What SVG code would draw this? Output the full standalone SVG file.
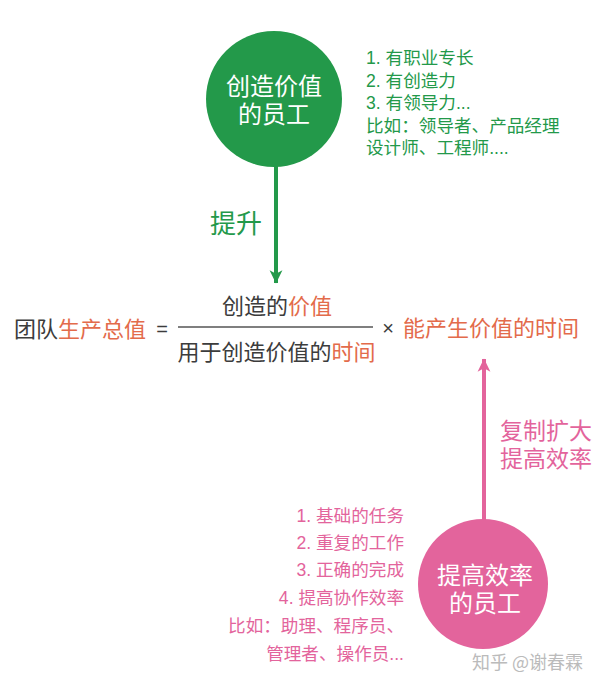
<svg xmlns="http://www.w3.org/2000/svg" width="600" height="687" viewBox="0 0 600 687">
<defs>
<style>
text{font-family:"Noto Sans CJK SC","Noto Sans",sans-serif}
.n{font-family:"Liberation Sans",Arial,sans-serif}
.g{fill:#23994a}
.p{fill:#e3649c}
.o{fill:#e36b4b}
.k{fill:#3c3c3c}
.w{fill:#ffffff;font-size:24px;text-anchor:middle}
.list{font-size:17.6px}
.f{font-size:22px}
</style>
<marker id="ag" markerWidth="4" markerHeight="4" refX="3.2" refY="2" orient="auto" markerUnits="strokeWidth" viewBox="0 0 4 4"><path d="M0,0.4 L3.3,2 L0,3.6 L0.9,2 Z" fill="#23994a"/></marker>
<marker id="ap" markerWidth="4" markerHeight="4" refX="3.2" refY="2" orient="auto" markerUnits="strokeWidth" viewBox="0 0 4 4"><path d="M0,0.4 L3.3,2 L0,3.6 L0.9,2 Z" fill="#e3649c"/></marker>
</defs>
<rect width="600" height="687" fill="#ffffff"/>
<g id="connectors">
<line x1="276" y1="166" x2="276" y2="283" stroke="#23994a" stroke-width="4" marker-end="url(#ag)"/>
<line x1="484" y1="520" x2="484" y2="359" stroke="#e3649c" stroke-width="4" marker-end="url(#ap)"/>
</g>
<g id="node-create">
<circle cx="274" cy="99" r="68" fill="#23994a"/>
<text class="w" x="274" y="95">创造价值</text>
<text class="w" x="274" y="123">的员工</text>
</g>
<g id="create-list" class="g list">
<text x="366" y="64"><tspan class="n">1. </tspan>有职业专长</text>
<text x="366" y="86.5"><tspan class="n">2. </tspan>有创造力</text>
<text x="366" y="109"><tspan class="n">3. </tspan>有领导力<tspan class="n">...</tspan></text>
<text x="366" y="131.5">比如：领导者、产品经理</text>
<text x="366" y="154">设计师、工程师<tspan class="n">....</tspan></text>
</g>
<g id="label-up">
<text class="g" x="262" y="233" font-size="26" text-anchor="end">提升</text>
</g>
<g id="formula" class="f">
<text x="14" y="337"><tspan class="k">团队</tspan><tspan class="o">生产总值</tspan></text>
<text class="k n" x="162" y="336" font-size="20" text-anchor="middle">=</text>
<text x="277" y="314" text-anchor="middle"><tspan class="k">创造的</tspan><tspan class="o">价值</tspan></text>
<line x1="178" y1="327" x2="373" y2="327" stroke="#555555" stroke-width="1.5"/>
<text x="276.5" y="360" text-anchor="middle"><tspan class="k">用于创造价值的</tspan><tspan class="o">时间</tspan></text>
<text class="k n" x="388" y="335" font-size="20" text-anchor="middle">×</text>
<text class="o" x="403" y="336">能产生价值的时间</text>
</g>
<g id="label-copy" class="p" font-size="23">
<text x="500" y="439">复制扩大</text>
<text x="500" y="467">提高效率</text>
</g>
<g id="node-efficiency">
<circle cx="483" cy="584" r="65" fill="#e3649c"/>
<text class="w" x="485" y="584">提高效率</text>
<text class="w" x="485" y="612">的员工</text>
</g>
<g id="efficiency-list" class="p list" text-anchor="end">
<text x="404" y="521.5"><tspan class="n">1. </tspan>基础的任务</text>
<text x="404" y="548.5"><tspan class="n">2. </tspan>重复的工作</text>
<text x="404" y="575.5"><tspan class="n">3. </tspan>正确的完成</text>
<text x="404" y="603.5"><tspan class="n">4. </tspan>提高协作效率</text>
<text x="404" y="631.5">比如：助理、程序员、</text>
<text x="404" y="659.5">管理者、操作员<tspan class="n">...</tspan></text>
</g>
<text x="472" y="669" font-size="18" fill="#bbbbbb">知乎 @谢春霖</text>
</svg>
